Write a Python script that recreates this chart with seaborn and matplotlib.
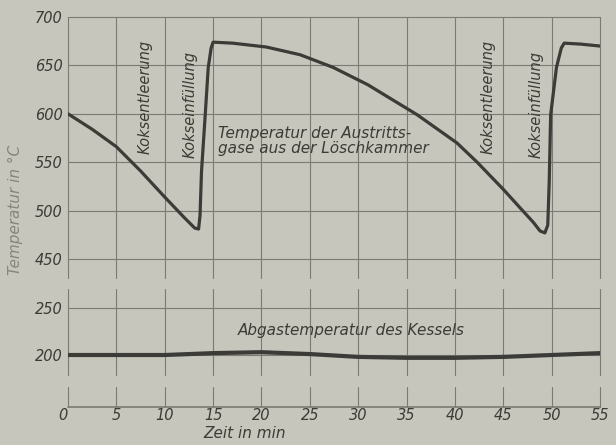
import matplotlib
matplotlib.use("Agg")
import matplotlib.pyplot as plt
import numpy as np
import pandas as pd
import seaborn as sns

sns.set_theme(style="white")
plt.rcParams['font.family'] = ['DejaVu Sans']

# exit gas temperature of the quenching chamber
zeit_gas = [0, 2.5, 5, 7.5, 10, 12, 13.1, 13.5, 13.65, 13.8, 14.2, 14.5, 14.8, 15, 17, 20.5,
            24, 27.4, 31, 36.1, 40.2, 42.3, 45, 47, 48.1, 48.8, 49.3, 49.6, 49.75,
            49.9, 50.5, 51, 51.3, 53, 55]
temp_gas = [600, 584, 566, 541, 514, 493, 482, 481, 495, 540, 601, 648, 668, 674, 673, 669,
            661, 648, 630, 599, 570, 550, 522, 500, 488, 479, 477, 485, 530,
            599, 648, 668, 673, 672, 670]

# flue gas temperature of the boiler
zeit_kessel = [0, 5, 10, 15, 20, 25, 30, 35, 40, 45, 50, 55]
temp_kessel = [200, 200, 200, 202, 203, 201, 198, 197, 197, 198, 200, 202]

x_ticks = list(range(0, 60, 5))
y_ticks_oben = [450, 500, 550, 600, 650, 700]
y_ticks_unten = [200, 250]

df_gas = pd.DataFrame({"zeit": zeit_gas, "temp": temp_gas})
df_kessel = pd.DataFrame({"zeit": zeit_kessel, "temp": temp_kessel})

bg = "#c6c6bc"
ink = "#3b3b37"
grid = "#7b7b75"

fig = plt.figure(figsize=(6.16, 4.45), dpi=100, facecolor=bg)
ax1 = fig.add_axes([68/616, 1-278/445, 532/616, 261/445], facecolor=bg)
ax2 = fig.add_axes([68/616, 1-407/445, 532/616, 118/445], facecolor=bg)

sns.lineplot(data=df_gas, x="zeit", y="temp", ax=ax1, color=ink, lw=2.3,
             sort=False, estimator=None)
sns.lineplot(data=df_kessel, x="zeit", y="temp", ax=ax2, color=ink, lw=3.0)

for ax in (ax1, ax2):
    ax.set_xlim(0, 55)
    for s in ax.spines.values():
        s.set_visible(False)
    ax.tick_params(length=0, labelsize=10.5, labelcolor=ink, pad=4)
    ax.set_xlabel("")
    ax.set_ylabel("")
    ax.set_xticks(x_ticks)

ax1.set_ylim(430.4, 700)
ax1.set_yticks(y_ticks_oben)
ax1.set_xticklabels([])
for y in y_ticks_oben:
    ax1.axhline(y, color=grid, lw=0.8, zorder=0, clip_on=False)
for x in x_ticks:
    ax1.axvline(x, color=grid, lw=0.8, zorder=0, clip_on=False)

ax2.set_ylim(144.7, 270.2)
ax2.set_yticks(y_ticks_unten)
ax2.tick_params(axis="x", pad=1)
ax2.set_xticklabels([str(t) for t in x_ticks])
ax2.get_xticklabels()[0].set_horizontalalignment("right")
for y in y_ticks_unten:
    ax2.axhline(y, color=grid, lw=0.8, zorder=0)
ax2.axhline(144.7, color=grid, lw=1.2, zorder=0, clip_on=False)
for x in x_ticks:
    ax2.axvline(x, ymin=0.0, ymax=0.17, color=grid, lw=0.8, zorder=0, clip_on=False)
    ax2.axvline(x, ymin=0.27, ymax=1.0, color=grid, lw=0.8, zorder=0, clip_on=False)

for lbl in ax1.get_yticklabels() + ax2.get_yticklabels() + ax2.get_xticklabels():
    lbl.set_style("italic")

# labels in the upper panel
txt = dict(style="italic", color=ink, fontsize=10.5, rotation=90, ha="center", va="center")
ax1.text(8.0, 617, "Koksentleerung", **txt)
ax1.text(12.6, 610, "Kokseinfüllung", **txt)
ax1.text(43.4, 617, "Koksentleerung", **txt)
ax1.text(48.4, 610, "Kokseinfüllung", **txt)
ax1.text(15.5, 572, "Temperatur der Austritts-\ngase aus der Löschkammer",
         style="italic", color=ink, fontsize=11, ha="left", va="center",
         linespacing=1.0)
ax2.text(17.6, 226, "Abgastemperatur des Kessels", style="italic", color=ink,
         fontsize=11, ha="left", va="center")

fig.text(15/616, 1-210/445, "Temperatur in °C", rotation=90, style="italic",
         color="#86867f", fontsize=11, ha="center", va="center")
fig.text(245/616, 1-434/445, "Zeit in min", style="italic", color=ink,
         fontsize=11, ha="center", va="center")

fig.savefig("out.png", dpi=100, facecolor=bg)
